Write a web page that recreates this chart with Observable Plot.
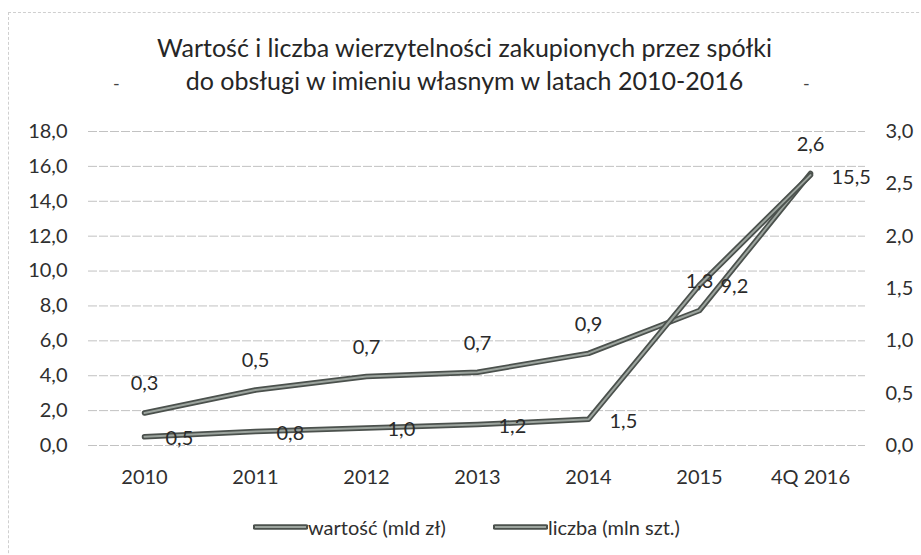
<!DOCTYPE html>
<html>
<head>
<meta charset="utf-8">
<script src="https://cdn.jsdelivr.net/npm/d3@7"></script>
<script src="https://cdn.jsdelivr.net/npm/@observablehq/plot@0.6"></script>
<style>
  body { margin: 0; background: #fff; font-family: Lato, "Open Sans", sans-serif; color: #2a2a2a; }
  #wrap { position: relative; width: 921px; height: 555px; overflow: hidden; background: #fff; }
  #frame { position: absolute; left: 8px; top: 12px; width: 940px; height: 600px;
           border-left: 1px dashed #cfcfcf; border-top: 1px dashed #cfcfcf; }
  #title { position: absolute; left: 4px; top: 31px; width: 921px; text-align: center;
           font-size: 25px; line-height: 33px; color: #262626; }
  .tick-dash { position: absolute; top: 72px; font-size: 18px; color: #444; }
  #chart { position: absolute; left: 0; top: 110px; }
  .item { position: absolute; top: 514px; display: flex; align-items: center;
          font-size: 20px; line-height: 26px; color: #2f2f2f; }
</style>
</head>
<body>
<div id="wrap">
  <div id="frame"></div>
  <div id="title">Wartość i liczba wierzytelności zakupionych przez spółki<br>do obsługi w imieniu własnym w latach 2010-2016</div>
  <div class="tick-dash" style="left:113px">-</div>
  <div class="tick-dash" style="left:803px">-</div>
  <div id="chart"></div>
  <div id="legend"></div>
</div>
<script>
const years = ["2010", "2011", "2012", "2013", "2014", "2015", "4Q 2016"];
const wartosc = [0.5, 0.8, 1.0, 1.2, 1.5, 9.2, 15.5];     // mld zł, left axis
const liczba = [0.31, 0.53, 0.66, 0.70, 0.88, 1.29, 2.6];  // mln szt., right axis
const leftTicks = [0, 2, 4, 6, 8, 10, 12, 14, 16, 18];
const rightTicks = [0, 0.5, 1.0, 1.5, 2.0, 2.5, 3.0];
const seriesNames = ["wartość (mld zł)", "liczba (mln szt.)"];

const ratio = 18 / 3; // right axis max 3.0 maps onto left axis max 18.0
const fmt = v => d3.format(".1f")(v).replace(".", ",");

const data = years.map((y, i) => ({year: y, w: wartosc[i], l: liczba[i]}));

const outer = "#4b514d", inner = "#9ca49e";

const chart = Plot.plot({
  width: 921,
  height: 390,
  marginTop: 21,
  marginBottom: 55,
  marginLeft: 88,
  marginRight: 56,
  x: {type: "point", domain: years, padding: 0.5, label: null},
  y: {domain: [0, 18], label: null},
  style: {fontFamily: "Lato, 'Open Sans', sans-serif", fontSize: "20px", color: "#2f2f2f", background: "transparent"},
  marks: [
    Plot.gridY(leftTicks, {stroke: "#9a9a9a", strokeOpacity: 0.6, strokeDasharray: "9,2"}),
    Plot.axisY(leftTicks, {tickSize: 0, tickPadding: 21, tickFormat: fmt, label: null}),
    Plot.axisY(rightTicks.map(v => v * ratio), {anchor: "right", tickSize: 0, tickPadding: 20, tickFormat: d => fmt(d / ratio), label: null}),
    Plot.axisX({tickSize: 0, tickPadding: 24, label: null}),
    Plot.line(data, {x: "year", y: d => d.l * ratio, stroke: outer, strokeWidth: 5.5}),
    Plot.line(data, {x: "year", y: d => d.l * ratio, stroke: inner, strokeWidth: 2}),
    Plot.line(data, {x: "year", y: "w", stroke: outer, strokeWidth: 5.5}),
    Plot.line(data, {x: "year", y: "w", stroke: inner, strokeWidth: 2}),
    Plot.text(data, {x: "year", y: d => d.l * ratio, text: d => fmt(d.l), dy: -29, fontSize: 20, fill: "#2a2a2a"}),
    Plot.text(data, {x: "year", y: "w", text: d => fmt(d.w), dx: 21, dy: 2, textAnchor: "start", fontSize: 20, fill: "#2a2a2a"})
  ]
});
document.getElementById("chart").appendChild(chart);

const legend = document.getElementById("legend");
const legendLeft = [253, 493];
seriesNames.forEach((name, i) => {
  const item = document.createElement("div");
  item.className = "item";
  item.style.left = legendLeft[i] + "px";
  item.innerHTML = `<svg width="55" height="10"><line x1="2" y1="5" x2="53" y2="5" stroke="${outer}" stroke-width="5.5" stroke-linecap="round"/><line x1="2" y1="5" x2="53" y2="5" stroke="${inner}" stroke-width="2"/></svg><span>${name}</span>`;
  legend.appendChild(item);
});
</script>
</body>
</html>
